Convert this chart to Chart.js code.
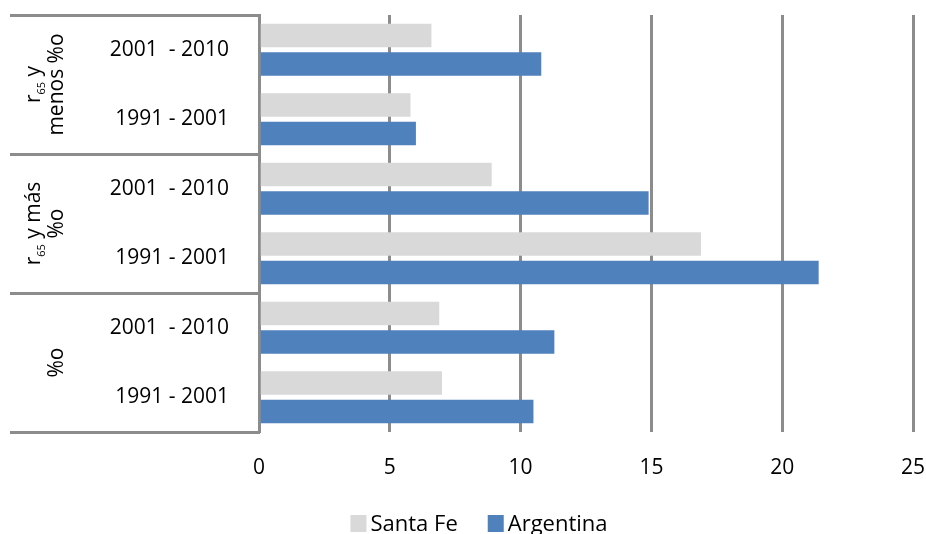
<!DOCTYPE html>
<html>
<head>
<meta charset="utf-8">
<script src="https://cdn.jsdelivr.net/npm/chart.js@4.4.1/dist/chart.umd.min.js"></script>
<style>
  html, body { margin: 0; padding: 0; background: #ffffff; }
  canvas { display: block; }
</style>
</head>
<body>
<canvas id="chart" width="926" height="534"></canvas>
<script>
// Periods, top to bottom (two per indicator)
const periods = ['2001  - 2010', '1991 - 2001', '2001  - 2010', '1991 - 2001', '2001  - 2010', '1991 - 2001'];
// Rates per period
const santaFe   = [6.6, 5.8, 8.9, 16.9, 6.9, 7.0];
const argentina = [10.8, 6.0, 14.9, 21.4, 11.3, 10.5];
const seriesNames = ['Santa Fe', 'Argentina'];
const xTicks = [0, 5, 10, 15, 20, 25];
// Indicator names, one per pair of periods; text between ~ marks is a subscript
const indicators = [['r~65~ y', 'menos %o'], ['r~65~ y más', '%o'], ['%o']];

const FONT = '"Open Sans", "Liberation Sans", sans-serif';
const GRID = '#8c8c8c';
const COLORS = ['#d9d9d9', '#4f81bd'];

// Draws a line of text (with ~subscript~ parts) centred on the origin
function drawRich(ctx, text) {
  const parts = text.split('~').map((t, i) => ({ t, sub: i % 2 === 1 }));
  const fontFor = p => p.sub ? `11px ${FONT}` : `21px ${FONT}`;
  let total = 0;
  parts.forEach(p => { ctx.font = fontFor(p); p.w = ctx.measureText(p.t).width; total += p.w; });
  let x = -total / 2;
  ctx.textAlign = 'left';
  ctx.textBaseline = 'middle';
  parts.forEach(p => {
    ctx.font = fontFor(p);
    ctx.fillText(p.t, x, p.sub ? 7 : 0);
    x += p.w;
  });
}

const decor = {
  id: 'decor',
  afterDraw(chart) {
    const { ctx, chartArea, scales: { y } } = chart;
    const half = (y.getPixelForValue(1) - y.getPixelForValue(0)) / 2;
    ctx.save();

    // separators between indicator blocks in the label column
    ctx.strokeStyle = GRID;
    ctx.lineWidth = 3;
    for (let i = 0; i <= periods.length; i += 2) {
      const py = Math.round(y.getPixelForValue(i) - half) + 0.5;
      ctx.beginPath();
      ctx.moveTo(10, py);
      ctx.lineTo(chartArea.left + 1, py);
      ctx.stroke();
    }

    // rotated indicator names
    ctx.fillStyle = '#000000';
    indicators.forEach((lines, g) => {
      const yc = (y.getPixelForValue(2 * g) + y.getPixelForValue(2 * g + 1)) / 2;
      lines.forEach((line, i) => {
        const xc = 57.5 - (lines.length - 1 - i) * 23;
        ctx.save();
        ctx.translate(xc, yc);
        ctx.rotate(-Math.PI / 2);
        drawRich(ctx, line);
        ctx.restore();
      });
    });

    // legend
    ctx.font = `22px ${FONT}`;
    ctx.textBaseline = 'alphabetic';
    ctx.textAlign = 'left';
    const box = 16, gapText = 4, gapItem = 30;
    const widths = chart.data.datasets.map(d => ctx.measureText(d.label).width);
    let total = 0;
    widths.forEach((w, i) => { total += box + gapText + w + (i ? gapItem : 0); });
    let x = 479 - total / 2;
    chart.data.datasets.forEach((d, i) => {
      ctx.fillStyle = d.backgroundColor;
      ctx.fillRect(x, 515, box, 17);
      ctx.fillStyle = '#000000';
      ctx.fillText(d.label, x + box + gapText, 531);
      x += box + gapText + widths[i] + gapItem;
    });

    ctx.restore();
  }
};

const barBorder = { top: 2.5, bottom: 2.5, left: 0, right: 0 };

new Chart(document.getElementById('chart'), {
  type: 'bar',
  data: {
    labels: periods,
    datasets: [
      { label: seriesNames[0], data: santaFe, backgroundColor: COLORS[0],
        borderColor: 'rgba(0,0,0,0)', borderWidth: barBorder, borderSkipped: false },
      { label: seriesNames[1], data: argentina, backgroundColor: COLORS[1],
        borderColor: 'rgba(0,0,0,0)', borderWidth: barBorder, borderSkipped: false }
    ]
  },
  options: {
    indexAxis: 'y',
    responsive: false,
    animation: false,
    layout: { padding: { top: 15, right: 13, left: 0, bottom: 0 } },
    datasets: { bar: { categoryPercentage: 0.82, barPercentage: 1 } },
    plugins: { legend: { display: false }, tooltip: { enabled: false } },
    scales: {
      x: {
        min: 0,
        max: 25,
        afterBuildTicks: s => { s.ticks = xTicks.map(v => ({ value: v })); },
        grid: { color: GRID, lineWidth: 3, drawTicks: false },
        border: { display: false },
        ticks: { padding: 23, color: '#000000', font: { family: FONT, size: 21 } },
        afterFit: s => { s.height = 102; s.paddingLeft = 0; s.paddingRight = 0; }
      },
      y: {
        grid: { display: false, drawTicks: false },
        border: { display: true, color: GRID, width: 3 },
        ticks: { padding: 30, color: '#000000', autoSkip: false, font: { family: FONT, size: 21 } },
        afterFit: s => { s.width = 259; s.paddingTop = 0; s.paddingBottom = 0; }
      }
    }
  },
  plugins: [decor]
});
</script>
</body>
</html>
